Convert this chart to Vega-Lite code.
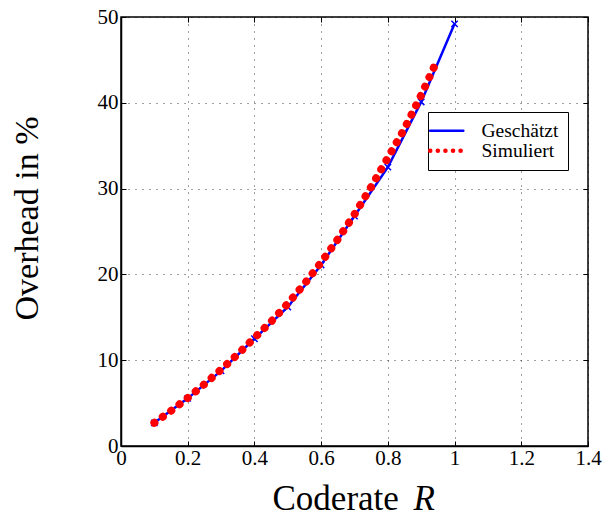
{
  "$schema": "https://vega.github.io/schema/vega-lite/v6.json",
  "width": 467,
  "height": 429,
  "autosize": {"type": "none"},
  "padding": {"left": 121, "top": 17, "right": 15, "bottom": 76},
  "background": "white",
  "config": {
    "font": "Liberation Serif",
    "view": {"stroke": "#000", "strokeWidth": 1.5},
    "axis": {
      "labelFont": "Liberation Serif", "labelFontSize": 20, "labelColor": "#000",
      "titleFont": "Liberation Serif", "titleFontSize": 35, "titleFontWeight": "normal", "titleColor": "#000",
      "tickColor": "#000", "tickSize": -5, "tickWidth": 1,
      "domainColor": "#000", "domainWidth": 1.5,
      "gridColor": "#000", "gridDash": [1, 6], "gridOpacity": 0.75, "gridWidth": 1
    },
    "legend": {
      "labelFont": "Liberation Serif", "labelFontSize": 19, "labelColor": "#000"
    }
  },
  "data": {
    "values": [
      {"R": 0.1, "overhead": 2.7, "series": "Geschätzt"},
      {"R": 0.2, "overhead": 5.55, "series": "Geschätzt"},
      {"R": 0.3, "overhead": 8.75, "series": "Geschätzt"},
      {"R": 0.4, "overhead": 12.5, "series": "Geschätzt"},
      {"R": 0.5, "overhead": 16.2, "series": "Geschätzt"},
      {"R": 0.6, "overhead": 21.1, "series": "Geschätzt"},
      {"R": 0.7, "overhead": 26.8, "series": "Geschätzt"},
      {"R": 0.8, "overhead": 32.5, "series": "Geschätzt"},
      {"R": 0.9, "overhead": 40.1, "series": "Geschätzt"},
      {"R": 1.0, "overhead": 49.2, "series": "Geschätzt"},
      {"R": 0.1, "overhead": 2.7, "series": "Simuliert"},
      {"R": 0.15, "overhead": 4.1, "series": "Simuliert"},
      {"R": 0.2, "overhead": 5.6, "series": "Simuliert"},
      {"R": 0.25, "overhead": 7.2, "series": "Simuliert"},
      {"R": 0.3, "overhead": 8.9, "series": "Simuliert"},
      {"R": 0.35, "overhead": 10.7, "series": "Simuliert"},
      {"R": 0.4, "overhead": 12.6, "series": "Simuliert"},
      {"R": 0.45, "overhead": 14.5, "series": "Simuliert"},
      {"R": 0.5, "overhead": 16.6, "series": "Simuliert"},
      {"R": 0.55, "overhead": 18.9, "series": "Simuliert"},
      {"R": 0.6, "overhead": 21.4, "series": "Simuliert"},
      {"R": 0.65, "overhead": 24.1, "series": "Simuliert"},
      {"R": 0.7, "overhead": 27.0, "series": "Simuliert"},
      {"R": 0.75, "overhead": 30.2, "series": "Simuliert"},
      {"R": 0.8, "overhead": 33.6, "series": "Simuliert"},
      {"R": 0.85, "overhead": 37.0, "series": "Simuliert"},
      {"R": 0.9, "overhead": 40.9, "series": "Simuliert"},
      {"R": 0.94, "overhead": 44.3, "series": "Simuliert"}
    ]
  },
  "layer": [
    {
      "transform": [{"filter": "datum.series === 'Geschätzt'"}],
      "mark": {"type": "line", "strokeWidth": 2.5},
      "encoding": {
        "x": {
          "field": "R", "type": "quantitative",
          "scale": {"domain": [0, 1.4], "nice": false},
          "axis": {
            "values": [0, 0.2, 0.4, 0.6, 0.8, 1, 1.2, 1.4], "format": "~g",
            "grid": true, "labelPadding": 6, "labelFlush": false, "labelFontSize": 21,
            "title": "Coderate", "titleX": 151, "titleY": 63,
            "titleAlign": "left", "titleBaseline": "alphabetic"
          }
        },
        "y": {
          "field": "overhead", "type": "quantitative",
          "scale": {"domain": [0, 50], "nice": false},
          "axis": {
            "values": [0, 10, 20, 30, 40, 50], "format": "d",
            "grid": true, "labelPadding": 8, "labelFlush": false, "labelFontSize": 21,
            "title": "Overhead in %", "titleX": -84, "titleY": 201, "titleAngle": -90,
            "titleAlign": "center", "titleBaseline": "alphabetic", "titleFontSize": 34
          }
        },
        "color": {
          "field": "series", "type": "nominal",
          "scale": {"domain": ["Geschätzt", "Simuliert"], "range": ["#0000ff", "#ff0000"]},
          "legend": {
            "title": null, "orient": "none", "legendX": 307, "legendY": 95,
            "strokeColor": "#000", "fillColor": "#fff", "padding": 9,
            "symbolType": "stroke", "symbolSize": 1100, "symbolStrokeWidth": 2.5,
            "labelFontSize": 19.5,
            "labelOffset": 25, "rowPadding": -9,
            "encode": {
              "symbols": {
                "update": {
                  "strokeDash": {"signal": "datum.value === 'Simuliert' ? [0.1, 7.5] : [1, 0]"},
                  "strokeCap": {"value": "round"},
                  "strokeWidth": {"signal": "datum.value === 'Simuliert' ? 4.5 : 2.5"}
                }
              }
            }
          }
        }
      }
    },
    {
      "transform": [{"filter": "datum.series === 'Geschätzt'"}],
      "mark": {"type": "point", "shape": "M-1,-1L1,1M1,-1L-1,1", "filled": false, "color": "#0000ff", "size": 40, "strokeWidth": 1.5, "opacity": 1},
      "encoding": {
        "x": {
          "field": "R", "type": "quantitative",
          "axis": {
            "orient": "bottom", "labels": false, "ticks": false, "domain": false, "grid": false,
            "title": "R", "titleFontStyle": "italic", "titleX": 292, "titleY": 63,
            "titleAlign": "left", "titleBaseline": "alphabetic"
          }
        },
        "y": {"field": "overhead", "type": "quantitative", "axis": null}
      }
    },
    {
      "transform": [{"filter": "datum.series === 'Simuliert'"}],
      "mark": {"type": "line", "strokeWidth": 8, "strokeDash": [0.1, 10.3], "strokeCap": "round"},
      "encoding": {
        "x": {
          "field": "R", "type": "quantitative",
          "axis": {"orient": "top", "values": [0, 0.2, 0.4, 0.6, 0.8, 1, 1.2, 1.4], "labels": false, "domain": false, "grid": false, "title": null}
        },
        "y": {
          "field": "overhead", "type": "quantitative",
          "axis": {"orient": "right", "values": [0, 10, 20, 30, 40, 50], "labels": false, "domain": false, "grid": false, "title": null}
        },
        "color": {"field": "series", "type": "nominal"}
      }
    }
  ],
  "resolve": {"axis": {"x": "independent", "y": "independent"}}
}
